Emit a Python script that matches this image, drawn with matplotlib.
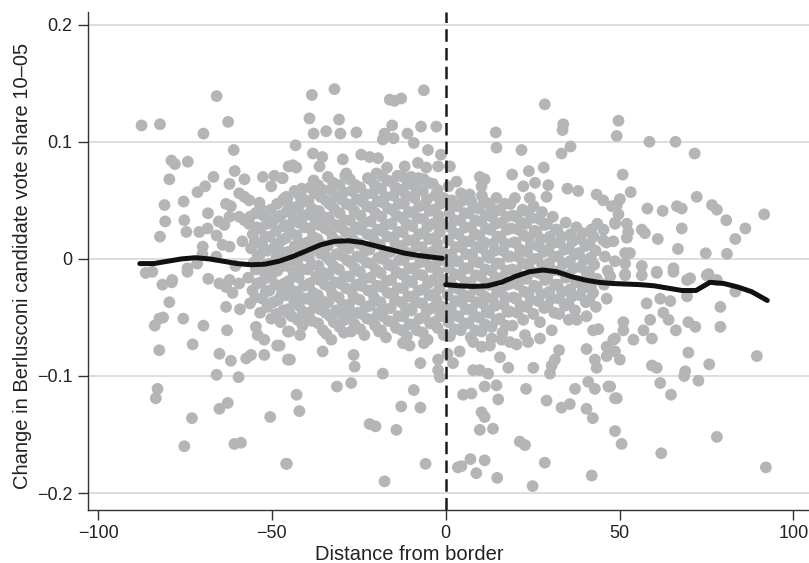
import numpy as np
import matplotlib
matplotlib.use('Agg')
import matplotlib.pyplot as plt

plt.rcParams['font.family'] = ['Liberation Sans', 'DejaVu Sans']

# scattered municipalities, left of the border (distance < 0)
left_sparse = [
    (-87.5, 0.114), (-82.2, 0.115), (-65.9, 0.139), (-69.7, 0.107), (-62.6, 0.117), (-61.0, 0.093),
    (-78.9, 0.084), (-77.9, 0.081), (-74.2, 0.083), (-79.5, 0.068), (-66.8, 0.070), (-60.7, 0.075),
    (-57.9, 0.068), (-52.6, 0.070), (-49.3, 0.071), (-47.1, 0.069), (-45.2, 0.079), (-69.2, 0.062),
    (-71.4, 0.057), (-62.2, 0.064), (-50.2, 0.062), (-80.9, 0.046), (-75.4, 0.049), (-59.4, 0.056),
    (-57.9, 0.053), (-56.5, 0.050), (-53.6, 0.048), (-53.4, 0.044), (-46.6, 0.050), (-80.7, 0.032),
    (-75.2, 0.033), (-68.4, 0.039), (-82.2, 0.019), (-74.6, 0.023), (-70.9, 0.023), (-68.5, 0.026),
    (-63.2, 0.047), (-61.8, 0.045), (-65.3, 0.032), (-63.7, 0.029), (-65.9, 0.020), (-62.2, 0.036),
    (-59.4, 0.036), (-57.9, 0.033), (-56.3, 0.036), (-69.9, 0.0105), (-64.2, 0.012), (-62.2, 0.0105),
    (-74.3, -0.008), (-86.3, -0.012), (-78.7, -0.018), (-84.4, -0.011), (-74.3, -0.011),
    (-81.5, -0.022), (-78.8, -0.020), (-68.3, -0.017), (-65.1, -0.021), (-62.2, -0.018), (-59.4, -0.021),
    (-61.3, -0.029), (-63.2, -0.024), (-79.5, -0.037), (-82.4, -0.051), (-81.3, -0.050), (-83.7, -0.057),
    (-75.5, -0.051), (-69.7, -0.057), (-63.2, -0.041), (-59.2, -0.043), (-62.9, -0.061), (-82.4, -0.078),
    (-72.8, -0.073), (-65.1, -0.081), (-61.8, -0.087), (-57.4, -0.085), (-56.0, -0.082), (-52.2, -0.082),
    (-48.5, -0.074), (-65.9, -0.099), (-59.6, -0.101), (-82.9, -0.111), (-83.4, -0.119), (-73.0, -0.136),
    (-65.1, -0.128), (-62.7, -0.123), (-50.5, -0.135), (-75.2, -0.160), (-60.8, -0.158), (-58.9, -0.157),
    (-45.9, -0.175), (-54.6, -0.058), (-54.1, -0.065), (-52.2, -0.069), (-45.4, -0.046), (-45.4, -0.062),
    (-45.4, -0.086), (-70.0, 0.004), (-66.0, 0.002), (-60.5, -0.006), (-58.5, 0.015), (-71.5, -0.004),
    (-38.5, 0.140), (-32.0, 0.145), (-6.3, 0.144), (-16.1, 0.136), (-14.7, 0.135), (-12.8, 0.137),
    (-39.2, 0.120), (-30.7, 0.119), (-38.0, 0.107), (-34.4, 0.109), (-30.3, 0.107), (-25.7, 0.108),
    (-15.4, 0.114), (-17.6, 0.107), (-18.1, 0.102), (-15.0, 0.103), (-11.0, 0.107), (-9.2, 0.099),
    (-7.1, 0.113), (-2.7, 0.113), (-43.2, 0.097), (-38.2, 0.090), (-35.5, 0.087), (-29.6, 0.085),
    (-5.1, 0.093), (-24.3, 0.089), (-21.9, 0.087), (-19.5, 0.086), (-44.0, 0.080), (-43.0, 0.078),
    (-36.3, 0.079), (-46.9, 0.069), (-33.9, 0.070), (-16.9, 0.078), (-11.8, 0.079), (-8.0, 0.082),
    (-5.6, 0.078), (-2.2, 0.079), (-41.6, 0.058), (-45.9, 0.053), (-42.1, 0.046), (-45.0, 0.040),
    (-28.6, 0.073), (-27.7, 0.068), (-25.7, 0.062), (-9.9, 0.070), (-7.5, 0.068), (-1.4, 0.089),
    (-45.0, -0.046), (-45.0, -0.062), (-41.9, -0.065), (-47.8, -0.074), (-41.1, -0.045), (-39.2, -0.052),
    (-37.8, -0.039), (-34.4, -0.064), (-32.9, -0.069), (-35.4, -0.079), (-44.8, -0.086), (-29.1, -0.052),
    (-27.2, -0.046), (-27.2, -0.062), (-26.5, -0.082), (-26.2, -0.092), (-19.2, -0.046), (-19.2, -0.062),
    (-18.1, -0.098), (-12.3, -0.072), (-10.4, -0.074), (-6.3, -0.072), (-7.3, -0.089), (-2.2, -0.086),
    (-2.2, -0.095), (-1.7, -0.101), (-31.3, -0.109), (-27.2, -0.106), (-42.9, -0.116), (-42.1, -0.130),
    (-9.2, -0.112), (-12.8, -0.126), (-7.3, -0.127), (-21.9, -0.141), (-20.2, -0.143), (-14.2, -0.146),
    (-45.7, -0.175), (-5.8, -0.175), (-17.6, -0.190),
]

# dense core, left of the border
left_dense = [
    (-56.3, -0.038), (-55.6, -0.027), (-56.8, -0.016), (-55.2, -0.003), (-56.0, 0.009), (-55.5, 0.021), (-56.6, 0.030),
    (-53.4, -0.046), (-52.7, -0.034), (-53.1, -0.020), (-52.3, -0.011), (-53.6, 0.003), (-52.8, 0.012), (-53.3, 0.026), (-52.5, 0.037),
    (-50.2, -0.051), (-49.6, -0.037), (-50.7, -0.027), (-49.9, -0.013), (-50.4, -0.004), (-49.3, 0.010), (-50.6, 0.019), (-49.8, 0.032), (-50.3, 0.042),
    (-47.5, -0.054), (-46.8, -0.044), (-47.2, -0.030), (-46.4, -0.021), (-47.7, -0.007), (-46.9, 0.005), (-47.1, 0.016), (-46.5, 0.028), (-47.4, 0.037), (-46.7, 0.051),
    (-44.3, -0.049), (-43.6, -0.036), (-44.6, -0.026), (-43.8, -0.012), (-44.1, -0.001), (-43.4, 0.011), (-44.5, 0.022), (-43.7, 0.034), (-44.2, 0.044), (-43.5, 0.058),
    (-41.2, -0.057), (-40.5, -0.047), (-41.6, -0.033), (-40.8, -0.023), (-41.3, -0.009), (-40.4, 0.003), (-41.5, 0.013), (-40.7, 0.027), (-41.0, 0.036), (-40.3, 0.050), (-41.4, 0.060),
    (-38.4, -0.053), (-37.6, -0.039), (-38.1, -0.029), (-37.3, -0.015), (-38.6, -0.005), (-37.8, 0.009), (-38.2, 0.019), (-37.5, 0.033), (-38.5, 0.043), (-37.7, 0.056), (-38.0, 0.067),
    (-35.3, -0.061), (-34.6, -0.046), (-35.5, -0.036), (-34.8, -0.022), (-35.1, -0.012), (-34.4, 0.002), (-35.6, 0.012), (-34.7, 0.026), (-35.2, 0.036), (-34.5, 0.050), (-35.4, 0.059),
    (-32.2, -0.054), (-31.5, -0.044), (-32.6, -0.030), (-31.8, -0.020), (-32.3, -0.006), (-31.4, 0.004), (-32.5, 0.018), (-31.7, 0.029), (-32.1, 0.043), (-31.6, 0.053), (-32.4, 0.065),
    (-29.3, -0.063), (-28.5, -0.049), (-29.6, -0.039), (-28.7, -0.025), (-29.2, -0.015), (-28.4, -0.001), (-29.5, 0.009), (-28.8, 0.023), (-29.1, 0.033), (-28.6, 0.047), (-29.4, 0.057), (-28.9, 0.071),
    (-26.2, -0.056), (-25.4, -0.046), (-26.5, -0.032), (-25.7, -0.022), (-26.1, -0.008), (-25.5, 0.002), (-26.6, 0.016), (-25.8, 0.027), (-26.3, 0.041), (-25.6, 0.051), (-26.0, 0.063),
    (-23.4, -0.065), (-22.6, -0.051), (-23.1, -0.041), (-22.3, -0.027), (-23.5, -0.017), (-22.8, -0.003), (-23.2, 0.007), (-22.5, 0.021), (-23.6, 0.031), (-22.7, 0.045), (-23.0, 0.055), (-22.4, 0.069),
    (-20.3, -0.057), (-19.5, -0.047), (-20.6, -0.033), (-19.8, -0.023), (-20.1, -0.009), (-19.4, 0.001), (-20.5, 0.015), (-19.7, 0.025), (-20.2, 0.039), (-19.6, 0.049), (-20.4, 0.063), (-19.9, 0.073),
    (-17.2, -0.067), (-16.5, -0.053), (-17.5, -0.043), (-16.7, -0.029), (-17.1, -0.019), (-16.4, -0.005), (-17.6, 0.005), (-16.8, 0.019), (-17.3, 0.029), (-16.6, 0.043), (-17.4, 0.053), (-16.9, 0.067),
    (-14.3, -0.059), (-13.6, -0.049), (-14.6, -0.035), (-13.8, -0.025), (-14.2, -0.011), (-13.4, -0.001), (-14.5, 0.013), (-13.7, 0.023), (-14.1, 0.037), (-13.5, 0.047), (-14.4, 0.061), (-13.9, 0.071),
    (-11.2, -0.066), (-10.4, -0.056), (-11.5, -0.042), (-10.7, -0.032), (-11.1, -0.018), (-10.5, -0.008), (-11.6, 0.006), (-10.8, 0.016), (-11.3, 0.030), (-10.6, 0.040), (-11.4, 0.054), (-10.9, 0.064),
    (-8.3, -0.061), (-7.5, -0.051), (-8.6, -0.037), (-7.8, -0.027), (-8.1, -0.013), (-7.4, -0.003), (-8.5, 0.011), (-7.7, 0.021), (-8.2, 0.035), (-7.6, 0.045), (-8.4, 0.059), (-7.9, 0.069),
    (-5.2, -0.069), (-4.5, -0.055), (-5.5, -0.045), (-4.7, -0.031), (-5.1, -0.021), (-4.4, -0.007), (-5.6, 0.003), (-4.8, 0.017), (-5.3, 0.027), (-4.6, 0.041), (-5.4, 0.051), (-4.9, 0.065),
    (-2.3, -0.059), (-1.6, -0.049), (-2.6, -0.035), (-1.8, -0.025), (-2.2, -0.011), (-1.4, -0.001), (-2.5, 0.013), (-1.7, 0.023), (-2.1, 0.037), (-1.5, 0.047), (-2.4, 0.059),
]

# more of the crowded core, left side, sitting between the points above
left_fill = [
    (-54.8, -0.033), (-54.2, -0.021), (-54.6, -0.009), (-54.1, 0.003), (-54.9, 0.015), (-54.4, 0.027), (-54.7, 0.039),
    (-51.3, -0.041), (-51.8, -0.028), (-51.1, -0.016), (-51.6, -0.005), (-51.2, 0.007), (-51.9, 0.019), (-51.4, 0.030), (-51.7, 0.040),
    (-48.7, -0.047), (-48.2, -0.035), (-48.9, -0.022), (-48.4, -0.010), (-48.6, 0.001), (-48.1, 0.013), (-48.8, 0.024), (-48.3, 0.036), (-48.5, 0.047),
    (-45.3, -0.043), (-45.8, -0.031), (-45.2, -0.019), (-45.7, -0.006), (-45.4, 0.006), (-45.9, 0.018), (-45.1, 0.029), (-45.6, 0.041), (-45.5, 0.052),
    (-42.6, -0.052), (-42.2, -0.040), (-42.8, -0.028), (-42.3, -0.016), (-42.7, -0.003), (-42.1, 0.008), (-42.9, 0.020), (-42.4, 0.031), (-42.5, 0.043), (-42.0, 0.054),
    (-39.3, -0.046), (-39.8, -0.034), (-39.2, -0.021), (-39.7, -0.009), (-39.4, 0.002), (-39.9, 0.014), (-39.1, 0.026), (-39.6, 0.038), (-39.5, 0.049), (-39.0, 0.061),
    (-36.7, -0.055), (-36.2, -0.043), (-36.8, -0.031), (-36.3, -0.018), (-36.6, -0.006), (-36.1, 0.005), (-36.9, 0.017), (-36.4, 0.029), (-36.5, 0.041), (-36.0, 0.053), (-36.7, 0.063),
    (-33.3, -0.049), (-33.8, -0.037), (-33.2, -0.025), (-33.7, -0.013), (-33.4, -0.001), (-33.9, 0.011), (-33.1, 0.023), (-33.6, 0.035), (-33.5, 0.047), (-33.0, 0.059),
    (-30.6, -0.058), (-30.2, -0.046), (-30.8, -0.033), (-30.3, -0.021), (-30.7, -0.009), (-30.1, 0.003), (-30.9, 0.015), (-30.4, 0.027), (-30.5, 0.039), (-30.0, 0.051), (-30.6, 0.063),
    (-27.3, -0.051), (-27.8, -0.039), (-27.2, -0.027), (-27.7, -0.015), (-27.4, -0.003), (-27.9, 0.009), (-27.1, 0.021), (-27.6, 0.033), (-27.5, 0.046), (-27.0, 0.058), (-27.6, 0.068),
    (-24.6, -0.060), (-24.2, -0.047), (-24.8, -0.035), (-24.3, -0.023), (-24.7, -0.011), (-24.1, 0.001), (-24.9, 0.013), (-24.4, 0.025), (-24.5, 0.037), (-24.0, 0.049), (-24.6, 0.061),
    (-21.3, -0.052), (-21.8, -0.040), (-21.2, -0.028), (-21.7, -0.016), (-21.4, -0.004), (-21.9, 0.008), (-21.1, 0.020), (-21.6, 0.032), (-21.5, 0.044), (-21.0, 0.056), (-21.7, 0.068),
    (-18.6, -0.061), (-18.2, -0.049), (-18.8, -0.037), (-18.3, -0.024), (-18.7, -0.012), (-18.1, 0.000), (-18.9, 0.012), (-18.4, 0.024), (-18.5, 0.036), (-18.0, 0.048), (-18.6, 0.060), (-18.3, 0.071),
    (-15.3, -0.054), (-15.8, -0.042), (-15.2, -0.030), (-15.7, -0.018), (-15.4, -0.006), (-15.9, 0.006), (-15.1, 0.018), (-15.6, 0.030), (-15.5, 0.042), (-15.0, 0.054), (-15.7, 0.066),
    (-12.6, -0.061), (-12.2, -0.049), (-12.8, -0.037), (-12.3, -0.025), (-12.7, -0.013), (-12.1, -0.001), (-12.9, 0.011), (-12.4, 0.023), (-12.5, 0.035), (-12.0, 0.047), (-12.6, 0.059), (-12.3, 0.070),
    (-9.3, -0.056), (-9.8, -0.044), (-9.2, -0.032), (-9.7, -0.020), (-9.4, -0.008), (-9.9, 0.004), (-9.1, 0.016), (-9.6, 0.028), (-9.5, 0.040), (-9.0, 0.052), (-9.7, 0.064),
    (-6.6, -0.063), (-6.2, -0.050), (-6.8, -0.038), (-6.3, -0.026), (-6.7, -0.014), (-6.1, -0.002), (-6.9, 0.010), (-6.4, 0.022), (-6.5, 0.034), (-6.0, 0.046), (-6.6, 0.058), (-6.3, 0.068),
    (-3.3, -0.054), (-3.8, -0.042), (-3.2, -0.030), (-3.7, -0.018), (-3.4, -0.006), (-3.9, 0.006), (-3.1, 0.018), (-3.6, 0.030), (-3.5, 0.042), (-3.0, 0.054), (-3.7, 0.064),
    (-0.6, -0.065), (-0.9, -0.041), (-0.5, -0.018), (-0.8, 0.006), (-0.7, 0.030), (-0.6, 0.052),
]

# scattered municipalities, right of the border
right_sparse = [
    (28.5, 0.132), (33.8, 0.115), (33.6, 0.110), (49.7, 0.118), (49.2, 0.105), (14.4, 0.108), (14.6, 0.095),
    (21.8, 0.093), (35.9, 0.096), (33.3, 0.090), (1.2, 0.079), (19.1, 0.072), (23.9, 0.075), (28.2, 0.078),
    (22.3, 0.062), (25.7, 0.065), (29.5, 0.063), (9.8, 0.070), (11.2, 0.068), (10.3, 0.062), (3.1, 0.066),
    (0.8, 0.062), (35.0, 0.060), (38.1, 0.058), (43.4, 0.055), (45.3, 0.050), (47.8, 0.045), (19.9, 0.052),
    (24.2, 0.052), (29.0, 0.053), (14.6, 0.052), (11.7, 0.048), (6.9, 0.055), (48.7, 0.031), (45.3, 0.016),
    (58.6, 0.100), (66.1, 0.100), (71.6, 0.090), (50.9, 0.072), (53.2, 0.057), (49.2, 0.046), (50.1, 0.051),
    (49.7, 0.038), (48.7, 0.030), (52.1, 0.030), (52.5, 0.023), (52.1, 0.018), (48.2, 0.015), (51.6, 0.005),
    (53.0, 0.005), (48.7, -0.002), (51.6, -0.004), (58.0, 0.043), (62.4, 0.041), (66.5, 0.045), (67.9, 0.043),
    (72.2, 0.053), (76.6, 0.046), (78.0, 0.042), (91.6, 0.038), (80.7, 0.033), (86.2, 0.026), (83.3, 0.017),
    (56.4, 0.025), (57.3, 0.022), (67.9, 0.026), (61.0, 0.017), (66.8, 0.0085), (74.8, 0.0048), (80.9, 0.0043),
    (56.4, -0.006), (60.7, -0.011), (65.5, -0.008), (70.3, -0.0165), (75.6, -0.013), (78.0, -0.018),
    (51.6, -0.013), (47.3, -0.015), (51.6, -0.014), (56.4, -0.014), (60.7, -0.012), (65.5, -0.011),
    (69.4, -0.018), (75.1, -0.014), (83.3, -0.028), (79.0, -0.041), (79.0, -0.058), (89.5, -0.083),
    (69.8, -0.080), (75.8, -0.090), (68.9, -0.096), (68.6, -0.100), (72.7, -0.104), (61.7, -0.106),
    (64.8, -0.116), (59.3, -0.091), (60.7, -0.093), (66.2, -0.061), (69.8, -0.054), (71.8, -0.058),
    (58.8, -0.052), (62.6, -0.046), (64.1, -0.052), (56.9, -0.061), (59.3, -0.068), (54.0, -0.069),
    (51.1, -0.061), (51.1, -0.054), (48.2, -0.069), (48.7, -0.079), (50.1, -0.086), (57.8, -0.038),
    (61.7, -0.034), (64.6, -0.036), (69.4, -0.032), (47.3, -0.109), (48.7, -0.119), (48.7, -0.147),
    (50.6, -0.158), (78.0, -0.152), (62.0, -0.166), (92.1, -0.178), (27.1, -0.054), (30.5, -0.061),
    (27.1, -0.068), (32.6, -0.047), (35.4, -0.052), (37.7, -0.052), (40.5, -0.049), (42.4, -0.061),
    (43.9, -0.060), (46.3, -0.075), (48.7, -0.068), (40.5, -0.077), (32.6, -0.078), (42.9, -0.086),
    (43.4, -0.093), (46.3, -0.083), (31.4, -0.086), (30.5, -0.091), (30.0, -0.098), (25.2, -0.093),
    (18.0, -0.093), (15.6, -0.084), (7.9, -0.095), (9.8, -0.095), (12.2, -0.098), (11.2, -0.109),
    (14.6, -0.108), (5.0, -0.116), (7.4, -0.115), (15.1, -0.120), (23.1, -0.111), (29.0, -0.121),
    (33.3, -0.127), (35.7, -0.124), (37.2, -0.111), (41.0, -0.105), (42.9, -0.111), (46.8, -0.109),
    (49.2, -0.119), (40.5, -0.128), (42.3, -0.136), (10.3, -0.131), (11.2, -0.135), (9.8, -0.146),
    (13.6, -0.145), (21.3, -0.156), (22.8, -0.159), (3.5, -0.178), (4.5, -0.177), (7.1, -0.171),
    (11.2, -0.172), (8.8, -0.183), (14.8, -0.187), (28.5, -0.174), (25.0, -0.194), (42.0, -0.185),
    (0.5, -0.081), (2.1, -0.089), (4.0, -0.079), (20.4, -0.073), (22.8, -0.065), (23.7, -0.071),
    (13.2, -0.068), (16.1, -0.069), (18.4, -0.071), (7.9, -0.071), (10.3, -0.075), (12.7, -0.074),
]

# dense core, right of the border
right_dense = [
    (1.2, -0.066), (0.8, -0.054), (1.5, -0.042), (0.6, -0.031), (1.3, -0.019), (0.9, -0.008), (1.6, 0.004), (0.7, 0.016), (1.4, 0.027), (1.0, 0.039), (1.7, 0.050),
    (4.3, -0.061), (3.6, -0.049), (4.6, -0.037), (3.8, -0.026), (4.2, -0.014), (3.5, -0.002), (4.5, 0.010), (3.7, 0.021), (4.1, 0.033), (3.4, 0.045), (4.4, 0.056),
    (7.2, -0.067), (6.5, -0.055), (7.5, -0.043), (6.7, -0.032), (7.1, -0.020), (6.4, -0.008), (7.6, 0.004), (6.8, 0.015), (7.3, 0.027), (6.6, 0.039), (7.4, 0.049),
    (10.3, -0.062), (9.6, -0.050), (10.6, -0.038), (9.8, -0.027), (10.1, -0.015), (9.4, -0.003), (10.5, 0.009), (9.7, 0.020), (10.2, 0.032), (9.5, 0.043), (10.4, 0.054),
    (13.2, -0.058), (12.4, -0.046), (13.5, -0.034), (12.7, -0.022), (13.1, -0.010), (12.5, 0.001), (13.6, 0.013), (12.8, 0.025), (13.3, 0.036), (12.6, 0.046),
    (16.3, -0.063), (15.5, -0.051), (16.6, -0.039), (15.8, -0.028), (16.2, -0.016), (15.4, -0.004), (16.5, 0.007), (15.7, 0.019), (16.1, 0.031), (15.6, 0.042),
    (19.2, -0.057), (18.4, -0.045), (19.5, -0.033), (18.7, -0.021), (19.1, -0.009), (18.5, 0.002), (19.6, 0.014), (18.8, 0.026), (19.3, 0.037), (18.6, 0.047),
    (22.3, -0.052), (21.5, -0.040), (22.6, -0.028), (21.8, -0.016), (22.2, -0.004), (21.4, 0.008), (22.5, 0.020), (21.7, 0.031), (22.1, 0.042),
    (25.2, -0.047), (24.4, -0.035), (25.5, -0.023), (24.7, -0.011), (25.1, 0.000), (24.5, 0.012), (25.6, 0.024), (24.8, 0.035), (25.3, 0.045),
    (28.3, -0.042), (27.5, -0.030), (28.6, -0.018), (27.8, -0.006), (28.2, 0.006), (27.4, 0.017), (28.5, 0.029), (27.7, 0.040),
    (31.2, -0.046), (30.4, -0.034), (31.5, -0.022), (30.7, -0.010), (31.1, 0.002), (30.5, 0.013), (31.6, 0.025), (30.8, 0.036),
    (34.3, -0.040), (33.5, -0.028), (34.6, -0.016), (33.8, -0.004), (34.2, 0.008), (33.4, 0.019), (34.5, 0.031),
    (37.2, -0.044), (36.4, -0.032), (37.5, -0.020), (36.7, -0.008), (37.1, 0.004), (36.5, 0.015), (37.6, 0.027),
    (40.3, -0.037), (39.5, -0.025), (40.6, -0.013), (39.8, -0.001), (40.2, 0.011), (39.4, 0.022),
    (43.2, -0.041), (42.4, -0.029), (43.5, -0.017), (42.7, -0.005), (43.1, 0.007), (42.5, 0.019), (43.6, 0.030),
    (46.3, -0.034), (45.5, -0.022), (46.6, -0.010), (45.8, 0.002), (46.2, 0.014), (45.4, 0.025),
]

# more of the crowded core, right side
right_fill = [
    (2.6, -0.060), (2.2, -0.048), (2.8, -0.036), (2.3, -0.024), (2.7, -0.013), (2.1, -0.002), (2.9, 0.010), (2.4, 0.022), (2.5, 0.033), (2.0, 0.045),
    (5.3, -0.055), (5.8, -0.043), (5.2, -0.031), (5.7, -0.020), (5.4, -0.008), (5.9, 0.004), (5.1, 0.015), (5.6, 0.027), (5.5, 0.039), (5.0, 0.050),
    (8.6, -0.061), (8.2, -0.049), (8.8, -0.037), (8.3, -0.026), (8.7, -0.014), (8.1, -0.002), (8.9, 0.010), (8.4, 0.021), (8.5, 0.033), (8.0, 0.044),
    (11.3, -0.056), (11.8, -0.044), (11.2, -0.032), (11.7, -0.021), (11.4, -0.009), (11.9, 0.003), (11.1, 0.014), (11.6, 0.026), (11.5, 0.037), (11.0, 0.049),
    (14.6, -0.052), (14.2, -0.040), (14.8, -0.028), (14.3, -0.016), (14.7, -0.004), (14.1, 0.007), (14.9, 0.019), (14.4, 0.030), (14.5, 0.041),
    (17.3, -0.057), (17.8, -0.045), (17.2, -0.033), (17.7, -0.022), (17.4, -0.010), (17.9, 0.002), (17.1, 0.013), (17.6, 0.025), (17.5, 0.036), (17.0, 0.047),
    (20.6, -0.046), (20.2, -0.034), (20.8, -0.022), (20.3, -0.010), (20.7, 0.002), (20.1, 0.014), (20.9, 0.025), (20.4, 0.036),
    (23.3, -0.041), (23.8, -0.029), (23.2, -0.017), (23.7, -0.005), (23.4, 0.006), (23.9, 0.018), (23.1, 0.030), (23.6, 0.040),
    (26.6, -0.036), (26.2, -0.024), (26.8, -0.012), (26.3, 0.000), (26.7, 0.011), (26.1, 0.023), (26.9, 0.034),
    (29.3, -0.040), (29.8, -0.028), (29.2, -0.016), (29.7, -0.004), (29.4, 0.008), (29.9, 0.019), (29.1, 0.030),
    (32.6, -0.034), (32.2, -0.022), (32.8, -0.010), (32.3, 0.002), (32.7, 0.014), (32.1, 0.025),
    (35.3, -0.038), (35.8, -0.026), (35.2, -0.014), (35.7, -0.002), (35.4, 0.009), (35.9, 0.021),
    (38.6, -0.031), (38.2, -0.019), (38.8, -0.007), (38.3, 0.005), (38.7, 0.017),
    (41.3, -0.035), (41.8, -0.023), (41.2, -0.011), (41.7, 0.001), (41.4, 0.013), (41.9, 0.025),
]

# local smoother on each side of the border
left_fit_x = [-88, -84, -80, -76, -72, -68, -64, -60, -56, -52, -48, -44, -40, -36, -32, -28, -24, -20, -16, -12, -8, -4, -1]
left_fit_y = [-0.004, -0.004, -0.002, 0.000, 0.001, 0.000, -0.002, -0.004, -0.005, -0.0045, -0.002, 0.002, 0.007,
              0.012, 0.015, 0.0155, 0.014, 0.011, 0.008, 0.005, 0.003, 0.0015, 0.0005]
right_fit_x = [0, 4, 8, 12, 16, 20, 24, 28, 32, 36, 40, 44, 48, 52, 56, 60, 64, 68, 72, 76, 80, 84, 88, 92.5]
right_fit_y = [-0.022, -0.023, -0.0235, -0.023, -0.020, -0.015, -0.011, -0.0095, -0.011, -0.015, -0.018, -0.020,
               -0.021, -0.0215, -0.022, -0.023, -0.025, -0.027, -0.027, -0.020, -0.021, -0.024, -0.028, -0.0355]

xticks = [-100, -50, 0, 50, 100]
xtick_labels = ['\u2212100', '\u221250', '0', '50', '100']
yticks = [-0.2, -0.1, 0, 0.1, 0.2]
ytick_labels = ['\u22120.2', '\u22120.1', '0', '0.1', '0.2']

fig = plt.figure(figsize=(8.09, 5.63), dpi=100)
ax = fig.add_axes([0.1088, 0.094, 0.8912, 0.885])

pts = np.array(left_sparse + left_dense + left_fill + right_sparse + right_dense + right_fill)
ax.scatter(pts[:, 0], pts[:, 1], s=72, color='#b4b5b7', edgecolors='none', zorder=2)

ax.axvline(0, color='#1a1a1a', linestyle=(0, (5, 2.5)), linewidth=1.8, zorder=3)
ax.plot(left_fit_x, left_fit_y, color='#111111', linewidth=3.6, solid_capstyle='round', zorder=4)
ax.plot(right_fit_x, right_fit_y, color='#111111', linewidth=3.6, solid_capstyle='round', zorder=4)

ax.set_xlim(-102.9, 104.5)
ax.set_ylim(-0.2145, 0.211)
ax.set_xticks(xticks)
ax.set_xticklabels(xtick_labels)
ax.set_yticks(yticks)
ax.set_yticklabels(ytick_labels)
ax.yaxis.grid(True, color='#d4d4d4', linewidth=1.1, zorder=0)
ax.set_axisbelow(True)

for side in ['top', 'right']:
    ax.spines[side].set_visible(False)
for side in ['left', 'bottom']:
    ax.spines[side].set_color('#333333')
    ax.spines[side].set_linewidth(1.0)

ax.tick_params(axis='both', direction='out', length=7, width=1.0, color='#333333',
               labelsize=13, labelcolor='#222222', pad=4)
# Stata centres the axis titles on the whole graph, not on the plot region
ax.set_xlabel('Distance from border', fontsize=14.5, color='#222222', labelpad=2, x=0.445)
ax.set_ylabel('Change in Berlusconi candidate vote share 10\u201305', fontsize=14.5, color='#222222',
              labelpad=4, y=0.49)

fig.savefig('out.png', dpi=100)
